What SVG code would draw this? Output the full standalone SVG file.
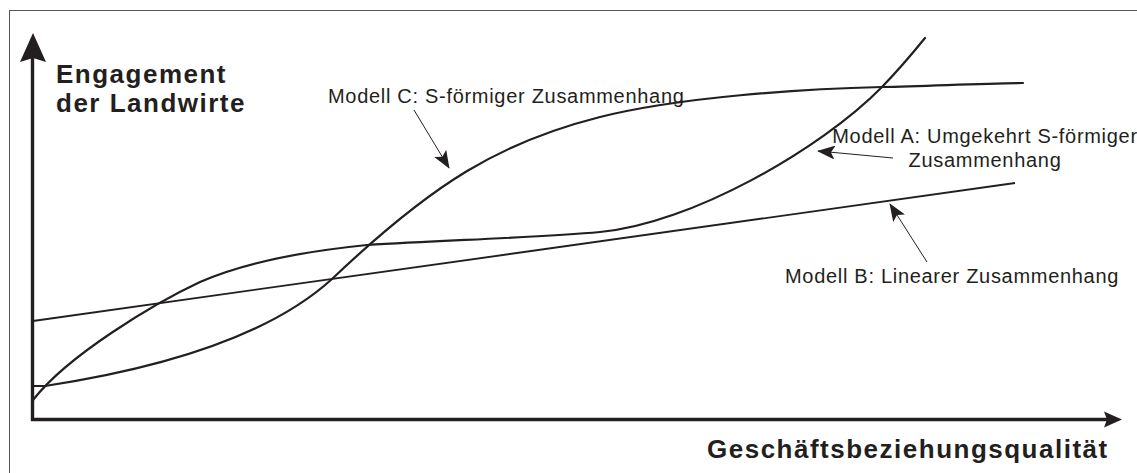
<svg xmlns="http://www.w3.org/2000/svg" width="1137" height="473" viewBox="0 0 1137 473">
  <style>
    .frame { fill: none; stroke: #555; stroke-width: 1; }
    .axis { fill: none; stroke: #231f20; stroke-width: 3.4; }
    .head { fill: #231f20; stroke: none; }
    .curve { fill: none; stroke: #231f20; stroke-width: 2.2; stroke-linecap: round; }
    .line { fill: none; stroke: #231f20; stroke-width: 1.8; }
    .pointer { fill: none; stroke: #231f20; stroke-width: 1; marker-end: url(#arr); }
    .bold { font-family: "Liberation Sans", Arial, sans-serif; font-weight: bold; font-size: 26px; letter-spacing: 1.5px; fill: #231f20; }
    .label { font-family: "Liberation Sans", Arial, sans-serif; font-size: 20px; letter-spacing: 0.7px; fill: #231f20; }
  </style>
  <defs>
    <marker id="arr" markerUnits="userSpaceOnUse" markerWidth="18" markerHeight="14" viewBox="0 0 18 14" refX="17" refY="7" orient="auto">
      <path d="M0,0 L18,7 L0,14 L4,7 Z" fill="#231f20"/>
    </marker>
  </defs>
  <rect width="1137" height="473" fill="#ffffff"/>
  <rect class="frame" x="9.5" y="10.5" width="1140" height="480"/>

  <g id="axes">
    <line class="axis" x1="32.5" y1="56" x2="32.5" y2="421"/>
    <polygon class="head" points="33,33 46,62 33,58 20,62"/>
    <line class="axis" x1="31" y1="419.5" x2="1108" y2="419.5"/>
    <polygon class="head" points="1122,419.5 1104,427.5 1107,419.5 1104,411.5"/>
  </g>

  <g id="curves">
    <path id="modelC" class="curve" d="M33,386 L45,386 C150,370 265,340 332,279 C434,182 501,142 600,117 C680,97 800,89 882,87 C930,86 980,83.5 1023,83"/>
    <path id="modelA" class="curve" d="M33,400 C68,355 155,303 200,282 C250,260 317,250 367,245 C450,240 540,237.5 600,232 C690,224 820,150 882,87 C897,71.5 912,54 925,38"/>
    <line id="modelB" class="line" x1="33" y1="321" x2="1015" y2="183"/>
  </g>

  <g id="connectors">
    <line class="pointer" x1="414" y1="110" x2="449" y2="168"/>
    <line class="pointer" x1="893" y1="158" x2="818" y2="151"/>
    <line class="pointer" x1="927" y1="262" x2="890" y2="204"/>
  </g>

  <g id="y-label">
    <text class="bold" x="56" y="82.5">Engagement</text>
    <text class="bold" x="56" y="111.5">der Landwirte</text>
  </g>
  <g id="x-label">
    <text class="bold" x="707" y="458">Geschäftsbeziehungsqualität</text>
  </g>
  <g id="label-C">
    <text class="label" x="328" y="103">Modell C: S-förmiger Zusammenhang</text>
  </g>
  <g id="label-A">
    <text class="label" x="985" y="143" text-anchor="middle">Modell A: Umgekehrt S-förmiger</text>
    <text class="label" x="985" y="167" text-anchor="middle">Zusammenhang</text>
  </g>
  <g id="label-B">
    <text class="label" x="785" y="283">Modell B: Linearer Zusammenhang</text>
  </g>
</svg>
